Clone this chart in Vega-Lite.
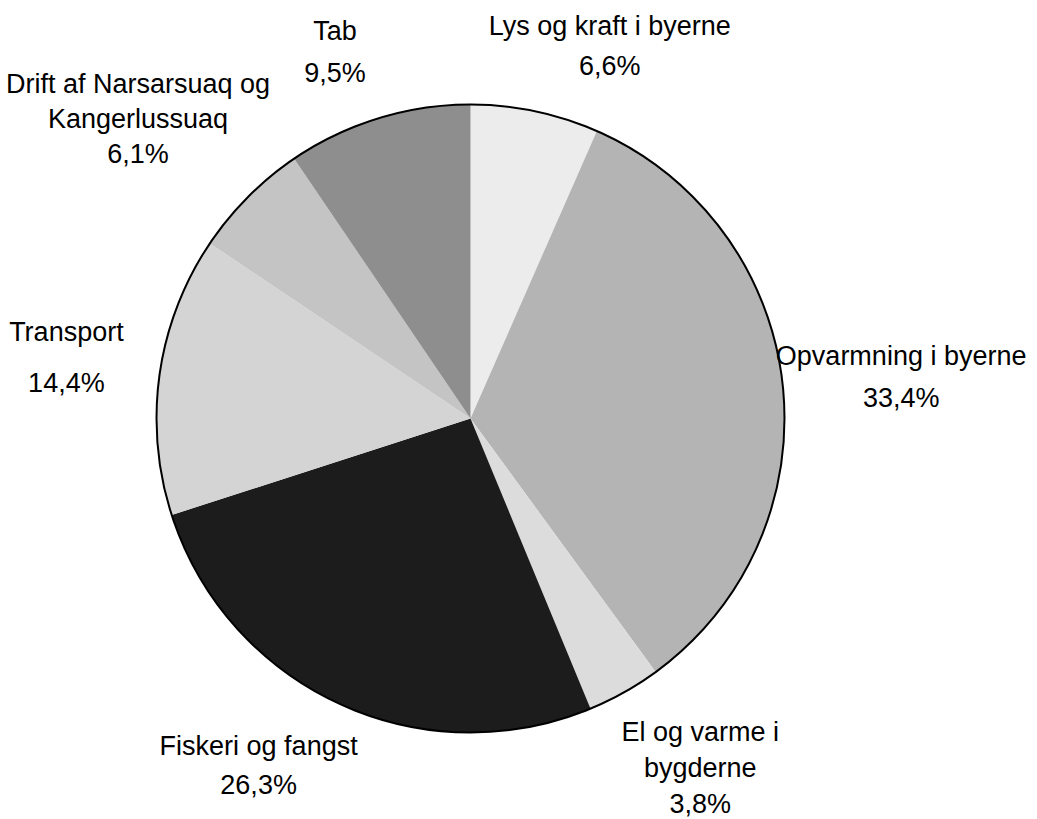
{
  "$schema": "https://vega.github.io/schema/vega-lite/v6.json",
  "width": 941,
  "height": 801,
  "autosize": "none",
  "padding": {"left": 0, "right": 96, "top": 18, "bottom": 0},
  "background": "white",
  "config": {"view": {"stroke": null}},
  "data": {
    "values": [
      {"i": 1, "cat": "Lys og kraft i byerne", "pct": 6.6, "label": "Lys og kraft i byerne\n6,6%"},
      {"i": 2, "cat": "Opvarmning i byerne", "pct": 33.4, "label": "Opvarmning i byerne\n33,4%"},
      {"i": 3, "cat": "El og varme i bygderne", "pct": 3.8, "label": "El og varme i\nbygderne\n3,8%"},
      {"i": 4, "cat": "Fiskeri og fangst", "pct": 26.3, "label": "Fiskeri og fangst\n26,3%"},
      {"i": 5, "cat": "Transport", "pct": 14.4, "label": "Transport\n14,4%"},
      {"i": 6, "cat": "Drift af Narsarsuaq og Kangerlussuaq", "pct": 6.1, "label": "Drift af Narsarsuaq og\nKangerlussuaq\n6,1%"},
      {"i": 7, "cat": "Tab", "pct": 9.5, "label": "Tab\n9,5%"}
    ]
  },
  "layer": [
    {
      "mark": {"type": "arc", "radius": 314, "stroke": null},
      "encoding": {
        "theta": {"field": "pct", "type": "quantitative", "stack": true},
        "order": {"field": "i", "type": "quantitative"},
        "color": {
          "field": "cat", "type": "nominal", "legend": null,
          "scale": {
            "domain": ["Lys og kraft i byerne", "Opvarmning i byerne", "El og varme i bygderne", "Fiskeri og fangst", "Transport", "Drift af Narsarsuaq og Kangerlussuaq", "Tab"],
            "range": ["#ececec", "#b4b4b4", "#dcdcdc", "#1c1c1c", "#d4d4d4", "#c4c4c4", "#8e8e8e"]
          }
        }
      }
    },
    {
      "mark": {"type": "arc", "radius": 314, "fill": "transparent", "stroke": "black", "strokeWidth": 2},
      "encoding": {
        "theta": {"aggregate": "sum", "field": "pct", "type": "quantitative", "stack": true}
      }
    },
    {
      "mark": {"type": "text", "radius": 400, "dx": 57, "dy": 0, "font": "Liberation Sans", "fontSize": 27, "lineHeight": 40, "lineBreak": "\n", "align": "center", "baseline": "middle", "color": "black"},
      "encoding": {
        "theta": {"field": "pct", "type": "quantitative", "stack": true},
        "order": {"field": "i", "type": "quantitative"},
        "detail": {"field": "cat", "type": "nominal"},
        "text": {"condition": {"test": "datum.i === 1", "field": "label"}, "value": ""}
      }
    },
    {
      "mark": {"type": "text", "radius": 400, "dx": 33, "dy": -18, "font": "Liberation Sans", "fontSize": 27, "lineHeight": 42, "lineBreak": "\n", "align": "center", "baseline": "middle", "color": "black"},
      "encoding": {
        "theta": {"field": "pct", "type": "quantitative", "stack": true},
        "order": {"field": "i", "type": "quantitative"},
        "detail": {"field": "cat", "type": "nominal"},
        "text": {"condition": {"test": "datum.i === 2", "field": "label"}, "value": ""}
      }
    },
    {
      "mark": {"type": "text", "radius": 400, "dx": 34, "dy": -34, "font": "Liberation Sans", "fontSize": 27, "lineHeight": 36, "lineBreak": "\n", "align": "center", "baseline": "middle", "color": "black"},
      "encoding": {
        "theta": {"field": "pct", "type": "quantitative", "stack": true},
        "order": {"field": "i", "type": "quantitative"},
        "detail": {"field": "cat", "type": "nominal"},
        "text": {"condition": {"test": "datum.i === 3", "field": "label"}, "value": ""}
      }
    },
    {
      "mark": {"type": "text", "radius": 400, "dx": -44, "dy": -35, "font": "Liberation Sans", "fontSize": 27, "lineHeight": 39, "lineBreak": "\n", "align": "center", "baseline": "middle", "color": "black"},
      "encoding": {
        "theta": {"field": "pct", "type": "quantitative", "stack": true},
        "order": {"field": "i", "type": "quantitative"},
        "detail": {"field": "cat", "type": "nominal"},
        "text": {"condition": {"test": "datum.i === 4", "field": "label"}, "value": ""}
      }
    },
    {
      "mark": {"type": "text", "radius": 400, "dx": -8, "dy": -30, "font": "Liberation Sans", "fontSize": 27, "lineHeight": 51, "lineBreak": "\n", "align": "center", "baseline": "middle", "color": "black"},
      "encoding": {
        "theta": {"field": "pct", "type": "quantitative", "stack": true},
        "order": {"field": "i", "type": "quantitative"},
        "detail": {"field": "cat", "type": "nominal"},
        "text": {"condition": {"test": "datum.i === 5", "field": "label"}, "value": ""}
      }
    },
    {
      "mark": {"type": "text", "radius": 400, "dx": -49, "dy": -51, "font": "Liberation Sans", "fontSize": 27, "lineHeight": 35, "lineBreak": "\n", "align": "center", "baseline": "middle", "color": "black"},
      "encoding": {
        "theta": {"field": "pct", "type": "quantitative", "stack": true},
        "order": {"field": "i", "type": "quantitative"},
        "detail": {"field": "cat", "type": "nominal"},
        "text": {"condition": {"test": "datum.i === 6", "field": "label"}, "value": ""}
      }
    },
    {
      "mark": {"type": "text", "radius": 400, "dx": -18, "dy": -4, "font": "Liberation Sans", "fontSize": 27, "lineHeight": 42, "lineBreak": "\n", "align": "center", "baseline": "middle", "color": "black"},
      "encoding": {
        "theta": {"field": "pct", "type": "quantitative", "stack": true},
        "order": {"field": "i", "type": "quantitative"},
        "detail": {"field": "cat", "type": "nominal"},
        "text": {"condition": {"test": "datum.i === 7", "field": "label"}, "value": ""}
      }
    }
  ]
}
